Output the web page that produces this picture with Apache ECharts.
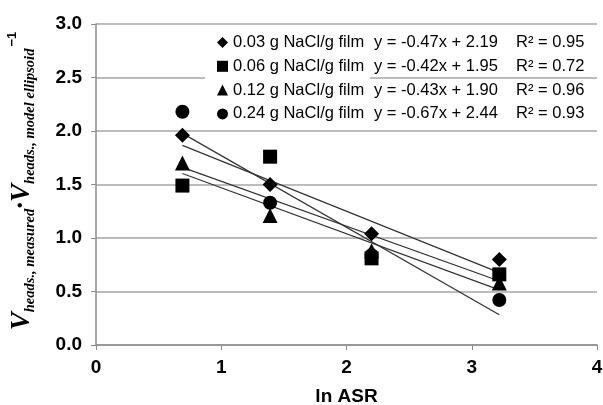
<html lang="en">
<head>
    <meta charset="UTF-8">
    <title>ln ASR</title>
    <script src="https://cdn.jsdelivr.net/npm/echarts@6/dist/echarts.min.js"></script>
</head>
<body style="margin:0;background:#fff">
<div id="main" style="width: 603px;height:405px;"></div>
<script type="text/javascript">
    // x positions (ln ASR)
    var lnASR = [0.69, 1.39, 2.20, 3.22];
    var seriesNames = ['0.03 g NaCl/g film', '0.06 g NaCl/g film', '0.12 g NaCl/g film', '0.24 g NaCl/g film'];
    var symbols = ['diamond', 'rect', 'triangle', 'circle'];
    var symbolSizes = [15, 14, 15, 14];
    // measured ratios
    var vals003 = [1.96, 1.50, 1.04, 0.80];
    var vals006 = [1.49, 1.76, 0.81, 0.66];
    var vals012 = [1.70, 1.21, 0.88, 0.58];
    var vals024 = [2.18, 1.33, 0.84, 0.42];
    // linear fits
    var slopes = [-0.47, -0.42, -0.43, -0.67];
    var intercepts = [2.19, 1.95, 1.90, 2.44];
    var r2 = ['0.95', '0.72', '0.96', '0.93'];
    var eqText = ['y = -0.47x + 2.19', 'y = -0.42x + 1.95', 'y = -0.43x + 1.90', 'y = -0.67x + 2.44'];

    var allVals = [vals003, vals006, vals012, vals024];
    var series = [];
    // trend lines first so markers sit on top
    for (var i = 0; i < 4; i++) {
        var x0 = lnASR[0], x1 = lnASR[3];
        series.push({
            type: 'line',
            name: 'fit' + i,
            data: [[x0, slopes[i] * x0 + intercepts[i]], [x1, slopes[i] * x1 + intercepts[i]]],
            showSymbol: false,
            symbol: 'none',
            lineStyle: {color: '#333', width: 1.2},
            z: 2,
            silent: true
        });
    }
    // first series drawn on top (as in the original)
    for (var i = 0; i < 4; i++) {
        series.push({
            type: 'scatter',
            name: seriesNames[i],
            symbol: symbols[i],
            symbolSize: symbolSizes[i],
            itemStyle: {color: '#000', opacity: 1},
            data: lnASR.map(function (x, k) { return [x, allVals[i][k]]; }),
            z: 10 - i
        });
    }

    var sans = 'Liberation Sans, Arial';
    var serif = 'Liberation Serif, Times New Roman, serif';
    var myChart = echarts.init(document.getElementById('main'));
    var option = {
        animation: false,
        grid: {left: 96, right: 6, top: 24, bottom: 60, outerBoundsMode: 'none', containLabel: false},
        legend: {
            orient: 'vertical',
            left: 212,
            top: 29,
            itemGap: 6.8,
            itemWidth: 11,
            itemHeight: 11,
            data: seriesNames.map(function (n, i) { return {name: n, icon: symbols[i]}; }),
            formatter: function (name) {
                var i = seriesNames.indexOf(name);
                return '{n|' + name + '}{e|' + eqText[i] + '}{r|R² = ' + r2[i] + '}';
            },
            textStyle: {
                color: '#000',
                fontFamily: sans,
                fontSize: 16.5,
                rich: {
                    n: {width: 141, fontSize: 16.5, lineHeight: 18, fontFamily: sans, color: '#000'},
                    e: {width: 142, fontSize: 16.5, lineHeight: 18, fontFamily: sans, color: '#000'},
                    r: {fontSize: 16.5, lineHeight: 18, fontFamily: sans, color: '#000'}
                }
            },
            itemStyle: {color: '#000', opacity: 1}
        },
        graphic: [{
            type: 'rect',
            shape: {x: 205, y: 70, width: 165, height: 14},
            style: {fill: '#fff'},
            z: 1
        }, {
            type: 'text',
            rotation: Math.PI / 2,
            x: 22, y: 181,
            style: {
                text: '{v|V}{s|heads., measured}{v|·V}{s|heads., model ellipsoid}{p|−1}',
                align: 'center',
                verticalAlign: 'middle',
                rich: {
                    v: {fontSize: 27, fontWeight: 'bold', fontStyle: 'italic', fontFamily: serif, lineHeight: 32, verticalAlign: 'middle'},
                    s: {fontSize: 14.5, fontWeight: 'bold', fontStyle: 'italic', fontFamily: serif, lineHeight: 32, padding: [12, 0, 0, 0], verticalAlign: 'bottom'},
                    p: {fontSize: 13, fontWeight: 'bold', fontFamily: sans, lineHeight: 32, padding: [0, 0, 14, 2], verticalAlign: 'top'}
                },
                fill: '#000'
            }
        }],
        xAxis: {
            type: 'value',
            min: 0, max: 4, interval: 1,
            name: 'ln ASR',
            nameLocation: 'middle',
            nameGap: 42,
            nameTextStyle: {fontSize: 19, fontWeight: 'bold', fontFamily: sans, color: '#000'},
            axisLine: {lineStyle: {color: '#8c8c8c', width: 1.5}},
            axisTick: {show: true, length: 5, lineStyle: {color: '#8c8c8c'}},
            axisLabel: {fontSize: 19, fontWeight: 'bold', fontFamily: sans, color: '#000', margin: 13},
            splitLine: {show: false}
        },
        yAxis: {
            type: 'value',
            min: 0, max: 3, interval: 0.5,
            axisLine: {show: true, lineStyle: {color: '#8c8c8c', width: 1.5}},
            axisTick: {show: true, length: 5, lineStyle: {color: '#8c8c8c'}},
            axisLabel: {
                fontSize: 19, fontWeight: 'bold', fontFamily: sans, color: '#000', margin: 14,
                formatter: function (v) { return v.toFixed(1); }
            },
            splitLine: {lineStyle: {color: '#a6a6a6', width: 1.5}}
        },
        series: series
    };
    myChart.setOption(option);
</script>
</body>
</html>
